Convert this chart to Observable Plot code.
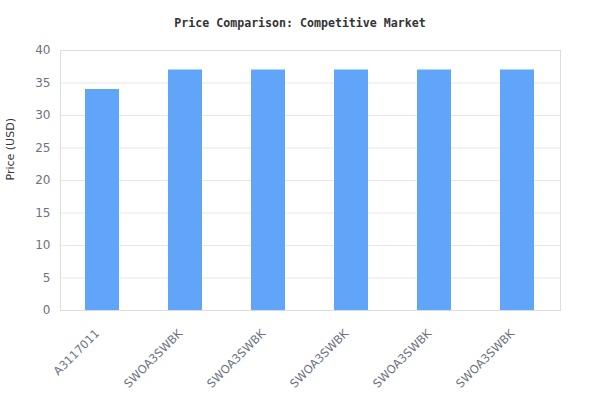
<!DOCTYPE html>
<html>
<head>
<meta charset="utf-8">
<script src="https://cdn.jsdelivr.net/npm/d3@7"></script>
<script src="https://cdn.jsdelivr.net/npm/@observablehq/plot@0.6"></script>
<style>
  body { margin: 0; background: #fff; }
  #title { height: 40px; box-sizing: border-box; padding-top: 16px; line-height: 14px; text-align: center;
    font: bold 11.6px "DejaVu Sans Mono", monospace; color: #333; width: 600px; }
</style>
</head>
<body>
<div id="title">Price Comparison: Competitive Market</div>
<div id="chart"></div>
<script>
const labels = ["A3117011", "SWOA3SWBK", "SWOA3SWBK", "SWOA3SWBK", "SWOA3SWBK", "SWOA3SWBK"];
const prices = [34, 37, 37, 37, 37, 37];
const yTicks = [0, 5, 10, 15, 20, 25, 30, 35, 40];

const data = labels.map((l, i) => ({i, label: l, price: prices[i]}));

const chart = Plot.plot({
  width: 600,
  height: 380,
  marginTop: 10,
  marginBottom: 110,
  marginLeft: 60,
  marginRight: 40,
  style: {fontFamily: "DejaVu Sans", fontSize: "11px", color: "#6b7280", background: "#fff"},
  x: {domain: data.map(d => d.i), paddingInner: 0.59, paddingOuter: 0.295, label: null, axis: null},
  y: {domain: [0, 40], ticks: yTicks, label: null},
  marks: [
    Plot.gridY(yTicks, {stroke: "#e5e7eb", strokeOpacity: 1}),
    Plot.barY(data, {x: "i", y: "price", fill: "#60a5fa"}),
    Plot.frame({stroke: "#dddddd"}),
    Plot.axisY(yTicks, {tickSize: 0, tickPadding: 10, fontSize: 12, label: null}),
    Plot.text(data, {x: "i", text: "label", frameAnchor: "bottom", rotate: -45, textAnchor: "end", lineAnchor: "middle", dx: -5, dy: 21, fill: "#6b7280", fontSize: 11.5}),
    Plot.text(["Price (USD)"], {frameAnchor: "left", dx: -50, rotate: -90, fill: "#333", fontSize: 11})
  ]
});
document.getElementById("chart").appendChild(chart);
</script>
</body>
</html>
